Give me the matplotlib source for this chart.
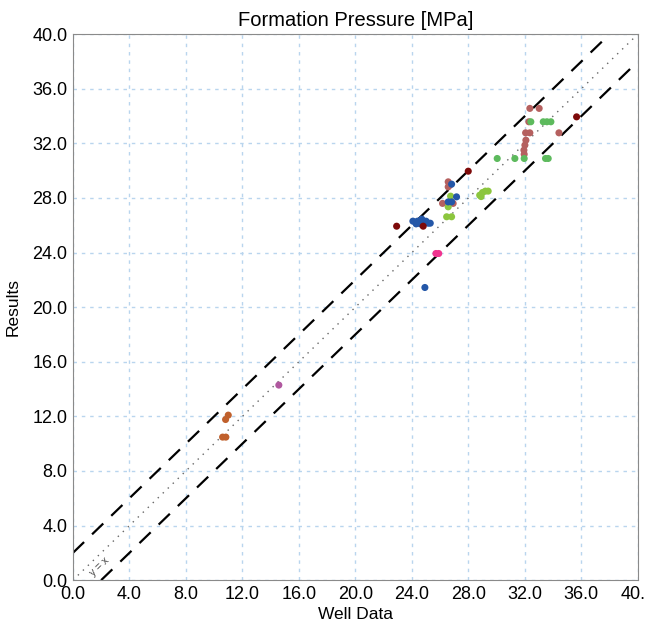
import matplotlib
matplotlib.use("Agg")
import matplotlib.pyplot as plt

plt.rcParams['font.family'] = ['Liberation Sans', 'DejaVu Sans']

# well data (x) vs results (y), one group per colour
rose_x = [32.35, 33.01, 32.28, 32.05, 32.35, 32.07, 32.0, 31.93, 31.95, 34.41, 26.57, 26.69, 26.57, 26.17, 26.92]
rose_y = [34.56, 34.56, 33.58, 32.77, 32.77, 32.23, 31.87, 31.5, 31.2, 32.77, 29.18, 28.94, 28.81, 27.6, 27.6]

darkred_x = [35.66, 27.99, 22.92, 24.8]
darkred_y = [33.94, 29.96, 25.93, 25.93]

green_x = [32.42, 33.3, 33.56, 33.84, 30.04, 31.29, 31.95, 33.46, 33.65]
green_y = [33.58, 33.58, 33.58, 33.58, 30.89, 30.89, 30.89, 30.89, 30.89]

lime_x = [28.8, 29.0, 29.2, 29.4, 28.9, 26.74, 26.57, 26.46, 26.81]
lime_y = [28.2, 28.4, 28.5, 28.5, 28.1, 28.13, 27.35, 26.62, 26.62]

blue_x = [26.81, 27.16, 26.57, 26.81, 24.07, 24.4, 24.7, 25.0, 24.3, 24.6, 25.15, 25.3, 24.92]
blue_y = [29.01, 28.08, 27.71, 27.71, 26.3, 26.3, 26.45, 26.3, 26.1, 26.1, 26.15, 26.15, 21.44]

pink_x = [25.7, 25.9]
pink_y = [23.93, 23.93]

orange_x = [11.0, 10.81, 10.6, 10.83]
orange_y = [12.09, 11.77, 10.48, 10.48]

purple_x = [14.58]
purple_y = [14.29]

ticks = [0, 4, 8, 12, 16, 20, 24, 28, 32, 36, 40]
tick_labels = ["0.0", "4.0", "8.0", "12.0", "16.0", "20.0", "24.0", "28.0", "32.0", "36.0", "40.0"]

fig = plt.figure(figsize=(6.45, 6.32), dpi=100)
ax = fig.add_axes([0.113, 0.082, 0.876, 0.864])

ax.plot([0, 40], [0, 40], color="#666666", lw=1.0, linestyle=(0, (1, 4)), zorder=2)
ax.plot([0, 40], [2, 42], color="black", lw=1.6, dashes=(7, 5), zorder=2)
ax.plot([2, 40], [0, 38], color="black", lw=1.6, dashes=(7, 5), zorder=2)
ax.text(1.9, 1.0, "y = x", rotation=44, fontsize=7.5, color="#444444",
        ha="center", va="center")

groups = [
    (rose_x, rose_y, "#b5605f"),
    (green_x, green_y, "#5dba5d"),
    (lime_x, lime_y, "#8cc63e"),
    (blue_x, blue_y, "#2457a8"),
    (darkred_x, darkred_y, "#7d0a0a"),
    (pink_x, pink_y, "#f0338f"),
    (orange_x, orange_y, "#c0602c"),
    (purple_x, purple_y, "#b0589f"),
]
for gx, gy, c in groups:
    ax.scatter(gx, gy, s=26, color=c, edgecolors="none", zorder=3)

ax.set_xlim(0, 40)
ax.set_ylim(0, 40)
ax.set_xticks(ticks)
ax.set_xticklabels(tick_labels)
ax.set_yticks(ticks)
ax.set_yticklabels(tick_labels)
ax.tick_params(length=0, labelsize=13, pad=4)
ax.grid(True, color="#b9d5ee", lw=1.0, linestyle=(0, (2.5, 3.5)))
ax.set_axisbelow(True)
for s in ax.spines.values():
    s.set_color("#8a8a8a")

ax.set_title("Formation Pressure [MPa]", fontsize=14.5, pad=6)
ax.set_xlabel("Well Data", fontsize=12.5, labelpad=3)
ax.set_ylabel("Results", fontsize=12.5, labelpad=8)

fig.savefig("out.png", dpi=100)
